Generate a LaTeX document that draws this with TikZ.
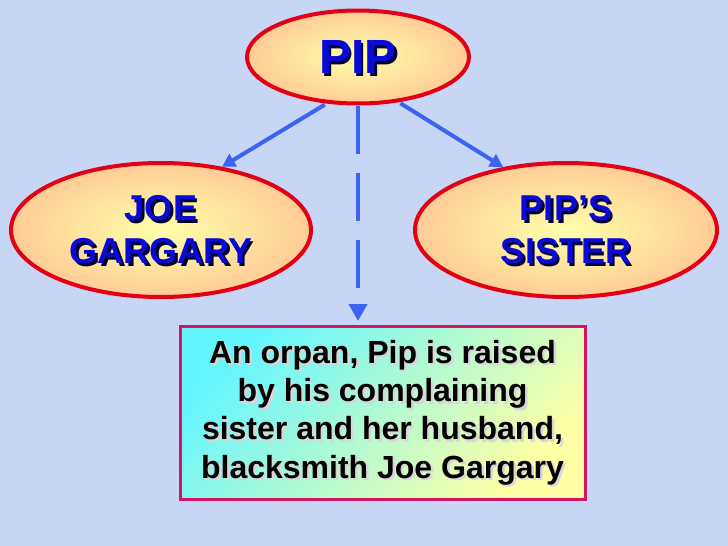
\documentclass[tikz,border=0pt]{standalone}
\usepackage{fontspec}
\setmainfont{Liberation Sans}
\usetikzlibrary{shapes.geometric,arrows.meta}
\definecolor{bgblue}{RGB}{198,214,244}
\definecolor{ringred}{RGB}{228,0,20}
\definecolor{peach}{RGB}{255,204,150}
\definecolor{paleyel}{RGB}{255,255,170}
\definecolor{arrblue}{RGB}{60,100,240}
\definecolor{txtblue}{RGB}{10,10,215}
\definecolor{shblue}{RGB}{0,0,50}
\definecolor{shgray}{RGB}{215,215,215}
\definecolor{boxred}{RGB}{210,20,100}
\definecolor{boxcyan}{RGB}{100,245,255}
\definecolor{boxyel}{RGB}{255,255,165}
\newcommand{\sh}[2]{\leavevmode\rlap{\raisebox{-2.5pt}[0pt][0pt]{\hspace{2.5pt}\textcolor{#1}{#2}}}#2}
\newcommand{\bigf}{\bfseries\fontsize{36}{43}\selectfont}

\begin{document}
\begin{tikzpicture}[x=1pt,y=-1pt,
   oval/.style={ellipse,draw=ringred,line width=4pt,inner color=paleyel,outer color=peach,
      text=txtblue,align=center,inner sep=0pt,minimum width=300pt,minimum height=134pt,font=\bigf},
   note/.style={draw=boxred,line width=3pt,top color=boxcyan,bottom color=boxyel,shading angle=45,
      minimum width=405pt,minimum height=173pt,align=center,inner sep=0pt,
      font=\bfseries\fontsize{32}{38.4}\selectfont},
   link/.style={draw=arrblue,line width=4pt,shorten <=2pt,-{Triangle[length=13pt,width=14pt]}}]
   \useasboundingbox (0,0) rectangle (728,546);
   \fill[bgblue] (0,0) rectangle (728,546);
   \node[oval,minimum width=222pt,minimum height=93pt,font=\bfseries\fontsize{48}{58}\selectfont]
      (pip) at (358,57) {\sh{shblue}{PIP}};
   \node[oval] (joe) at (161,230) {\sh{shblue}{JOE}\\\sh{shblue}{GARGARY}};
   \node[oval,minimum width=302pt] (sister) at (566,230) {\sh{shblue}{PIP’S}\\\sh{shblue}{SISTER}};
   \node[note] (story) at (382.5,412.5) {\sh{shgray}{An orpan, Pip is raised}\\
      \sh{shgray}{by his complaining}\\\sh{shgray}{sister and her husband,}\\
      \sh{shgray}{blacksmith Joe Gargary}};
   \coordinate (storytop) at (358,321);
   \draw[link] (pip.236) -- (joe.46);
   \draw[link] (pip.312) -- (sister.135);
   \draw[link,shorten <=0pt,dash pattern=on 48pt off 19pt,-{Triangle[length=17pt,width=18pt]}]
      (pip.south) -- (storytop);
\end{tikzpicture}
\end{document}
